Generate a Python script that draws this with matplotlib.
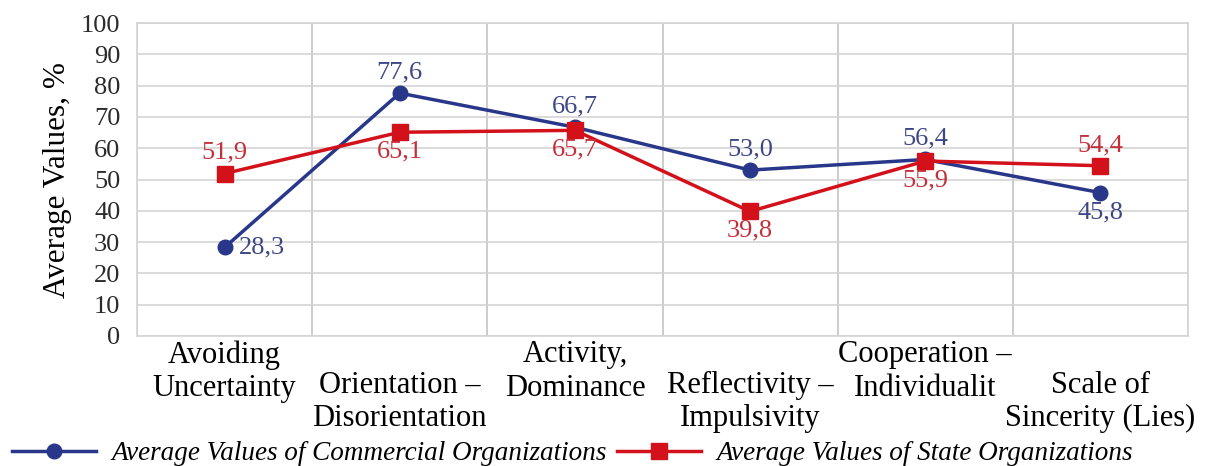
import matplotlib.pyplot as plt

categories = ["Avoiding\nUncertainty", "Orientation –\nDisorientation", "Activity,\nDominance",
              "Reflectivity –\nImpulsivity", "Cooperation –\nIndividualit", "Scale of\nSincerity (Lies)"]
commercial = [28.3, 77.6, 66.7, 53.0, 56.4, 45.8]
state = [51.9, 65.1, 65.7, 39.8, 55.9, 54.4]
com_pos = ["right", "above", "above", "above", "above", "below"]
state_pos = ["above", "below", "below", "below", "below", "above"]

blue = "#28378a"
red = "#d2111b"
blue_txt = "#3c4785"
red_txt = "#c4303a"

plt.rcParams["font.family"] = ["Liberation Serif", "DejaVu Serif"]

fig = plt.figure(figsize=(12.15, 4.66), dpi=100)
ax = fig.add_axes([137 / 1215, 130 / 466, 1051 / 1215, 313 / 466])

x = list(range(len(categories)))
ax.plot(x, commercial, color=blue, lw=2.5, marker="o", ms=10.5, label="Average Values of Commercial Organizations", zorder=3)
ax.plot(x, state, color=red, lw=2.5, marker="s", ms=11, label="Average Values of State Organizations", zorder=3)

def annotate(vals, pos, col):
    for i, v in enumerate(vals):
        txt = f"{v:.1f}".replace(".", ",")
        if pos[i] == "above":
            ax.annotate(txt, (i, v), xytext=(0, 7), textcoords="offset points", ha="center", va="bottom", color=col, fontsize=19)
        elif pos[i] == "below":
            ax.annotate(txt, (i, v), xytext=(0, -6), textcoords="offset points", ha="center", va="top", color=col, fontsize=19)
        else:
            ax.annotate(txt, (i, v), xytext=(10, 0), textcoords="offset points", ha="left", va="center", color=col, fontsize=19)

annotate(commercial, com_pos, blue_txt)
annotate(state, state_pos, red_txt)

ax.set_xlim(-0.5, len(categories) - 0.5)
ax.set_ylim(0, 100)
ax.set_yticks(range(0, 101, 10))
ax.tick_params(axis="y", length=0, labelsize=19, labelcolor="#2b2b2b", pad=12)
ax.set_xticks(x)
ax.set_xticklabels(categories, fontsize=22, linespacing=1.2)
ax.tick_params(axis="x", length=0)
for i, t in enumerate(ax.xaxis.get_major_ticks()):
    t.set_pad(3 if i % 2 == 0 else 25)

ax.yaxis.grid(True, color="#d4d4d4", lw=1.2)
ax.set_xticks([i + 0.5 for i in range(-1, len(categories))], minor=True)
ax.xaxis.grid(True, which="minor", color="#c4c4c4", lw=1.2)
ax.tick_params(axis="x", which="minor", length=0)
for s in ax.spines.values():
    s.set_color("#d4d4d4")
    s.set_linewidth(1.2)

ax.set_ylabel("Average Values, %", fontsize=22.5, labelpad=6)

fig.legend(loc="center left", bbox_to_anchor=(0.01, 12 / 466), ncol=2, frameon=False,
           prop={"style": "italic", "size": 19.5}, handlelength=3.1, handletextpad=0.55,
           columnspacing=0.4, borderpad=0, borderaxespad=0)

fig.savefig("out.png", dpi=100)
